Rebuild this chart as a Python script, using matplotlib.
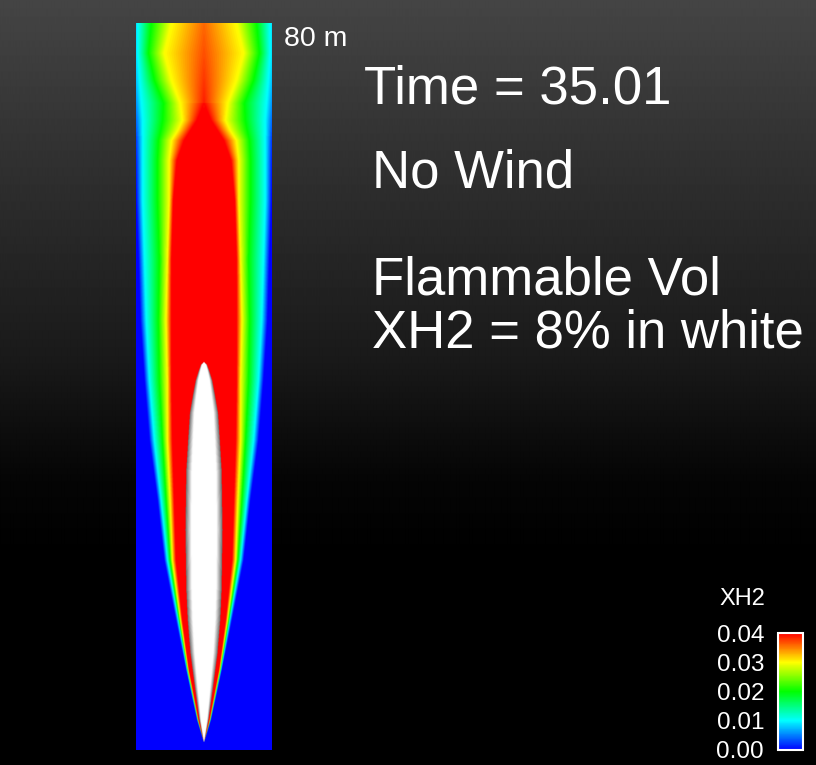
"""
XH2 mole fraction slice of a vertical hydrogen plume, no wind, t = 35.01 s.
Colour field rebuilt from contour half-widths read off the rendered slice.
"""

import numpy as np
import matplotlib
matplotlib.use("Agg")
import matplotlib.pyplot as plt
from matplotlib.colors import LinearSegmentedColormap, Normalize
from matplotlib.cm import ScalarMappable

plt.rcParams["font.family"] = ["Liberation Sans", "DejaVu Sans"]

W, H = 816, 765

# ── domain (m) ────────────────────────────────────────────────────────────────
HALF_WIDTH = 7.5
HEIGHT = 80.0

# ── contour half-widths (m) vs height z (m) ──────────────────────────────────
FIELD_Z  = [0.0, 0.8, 3.3, 8.8, 14.3, 20.9, 27.5, 34.1, 40.7, 47.3,
            53.9, 60.5, 64.9, 67.1, 68.2, 69.3, 71.2, 73.7, 76.7, 80.0]
CENTER_X = [0.06, 0.06, 0.06, 0.06, 0.06, 0.06, 0.06, 0.06, 0.06, 0.06,
            0.06, 0.06, 0.06, 0.055, 0.05, 0.042, 0.039, 0.038, 0.037, 0.036]
R_004    = [0, 0, 0.60, 1.65, 2.40, 3.10, 3.30, 3.50, 3.60, 3.60,
            3.60, 3.40, 3.00, 2.20, 1.50, 0.80, 0, 0, 0, 0]
R_003    = [0, 0, 0.66, 1.76, 2.60, 3.50, 3.75, 4.05, 4.05, 4.20,
            4.05, 3.85, 3.85, 3.60, 2.90, 2.40, 2.65, 3.60, 4.40, 3.60]
R_002    = [0, 0, 0.69, 1.82, 2.75, 3.75, 4.20, 4.60, 4.95, 5.05,
            4.95, 5.15, 5.15, 5.05, 4.80, 4.60, 4.50, 5.50, 6.15, 5.85]
R_001    = [0, 0, 0.73, 1.87, 2.85, 4.05, 4.75, 5.50, 6.05, 6.40,
            6.60, 6.80, 6.80, 6.80, 6.80, 6.80, 6.95, 7.15, 7.35, 7.35]
R_000    = [0, 0, 0.77, 1.98, 3.10, 4.40, 5.15, 6.05, 6.60, 7.05,
            7.25, 7.50, 7.60, 7.70, 7.85, 8.00, 8.25, 8.60, 8.80, 8.80]
LEVELS   = [0.04, 0.03, 0.02, 0.01, 0.00]

# flammable volume, XH2 = 8 % iso-line
WHITE_Z = [0.8, 3.3, 6.9, 10.7, 14.3, 17.6, 20.9, 24.2, 27.5, 30.8,
           34.1, 37.1, 39.1, 40.7, 41.8, 42.4, 42.7]
WHITE_R = [0, 0.50, 1.00, 1.50, 1.80, 1.95, 2.00, 2.05, 2.00, 1.95,
           1.75, 1.55, 1.20, 0.90, 0.55, 0.33, 0]

CBAR_TICKS = [0.00, 0.01, 0.02, 0.03, 0.04]

# background grey level vs pixel row
BG_Y     = [0, 140, 360, 480, 560, 765]
BG_LEVEL = [0.27, 0.20, 0.10, 0.02, 0.0, 0.0]


def build_field(nx=400, nz=1600):
    x = np.linspace(-HALF_WIDTH, HALF_WIDTH, nx)
    z = np.linspace(0, HEIGHT, nz)
    r = np.abs(x)
    field = np.zeros((nz, nx))
    for i, zi in enumerate(z):
        c = np.interp(zi, FIELD_Z, CENTER_X)
        radii = [np.interp(zi, FIELD_Z, R) for R in (R_004, R_003, R_002, R_001, R_000)]
        if radii[-1] <= 0:
            continue
        levels = list(LEVELS)
        if radii[0] <= 0:
            radii, levels = radii[1:], levels[1:]
        row = np.interp(r, [0] + radii, [c] + levels)
        rw = np.interp(zi, WHITE_Z, WHITE_R)
        if rw > 0:
            inside = r < rw
            row[inside] = 0.08 + 0.02 * (1 - r[inside] / rw)
        field[i] = row
    return field


rainbow = LinearSegmentedColormap.from_list(
    "rainbow", ["#0000ff", "#00ffff", "#00ff00", "#ffff00", "#ff0000"])
field_cmap = LinearSegmentedColormap.from_list("xh2", [
    (0.0, "#0000ff"), (0.1, "#00ffff"), (0.2, "#00ff00"), (0.3, "#ffff00"),
    (0.4, "#ff0000"), (0.795, "#ff0000"), (0.80, "#6a6a6a"),
    (0.865, "#ffffff"), (1.0, "#ffffff")])

fig = plt.figure(figsize=(W / 100, H / 100), dpi=100)

# background gradient
bg = fig.add_axes([0, 0, 1, 1])
rows = np.arange(H)
grey = np.interp(rows, BG_Y, BG_LEVEL)
bg.imshow(np.repeat(grey[:, None], 4, axis=1), cmap="gray", vmin=0, vmax=1,
          aspect="auto", interpolation="bilinear")
bg.axis("off")

# plume slice
ax = fig.add_axes([136 / W, 15 / H, 136 / W, 727 / H])
ax.imshow(build_field(), extent=[-HALF_WIDTH, HALF_WIDTH, 0, HEIGHT],
          origin="lower", aspect="auto", cmap=field_cmap,
          norm=Normalize(0, 0.1), interpolation="bilinear")
ax.axis("off")

# colour bar
cax = fig.add_axes([778 / W, 15 / H, 25 / W, 117 / H])
cb = fig.colorbar(ScalarMappable(norm=Normalize(0, 0.04), cmap=rainbow), cax=cax)
cax.yaxis.set_ticks_position("left")
cb.set_ticks(CBAR_TICKS)
cb.set_ticklabels([f"{t:.2f}" for t in CBAR_TICKS])
cax.tick_params(length=0, colors="white", labelsize=17.5, pad=10)
cb.outline.set_edgecolor("white")
cb.outline.set_linewidth(1.5)


def txt(x, y, s, size, **kw):
    fig.text(x / W, 1 - y / H, s, color="white", fontsize=size, va="baseline", **kw)


txt(765, 605, "XH2", 17, ha="right")
txt(284, 46, "80 m", 20.5)
txt(364, 103, "Time = 35.01", 38)
txt(372, 188, "No Wind", 38)
txt(372, 295, "Flammable Vol", 38)
txt(372, 348, "XH2 = 8% in white", 38)

fig.savefig("out.png", dpi=100, facecolor="black")
